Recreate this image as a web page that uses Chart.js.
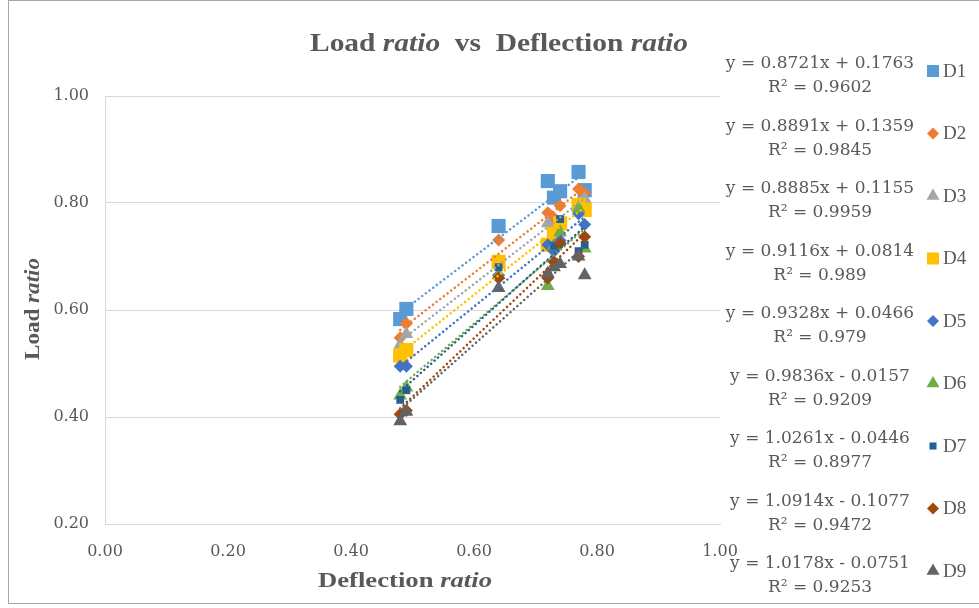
<!DOCTYPE html>
<html>
<head>
<meta charset="utf-8">
<script src="https://cdn.jsdelivr.net/npm/chart.js@4"></script>
<style>
  html, body { margin: 0; padding: 0; background: #fff; }
  #wrap { width: 979px; height: 608px; }
</style>
</head>
<body>
<div id="wrap"><canvas id="loadChart" width="979" height="608"></canvas></div>
<script>
// Series names and data
const seriesNames = ['D1', 'D2', 'D3', 'D4', 'D5', 'D6', 'D7', 'D8', 'D9'];
const deflection = [0.48, 0.49, 0.64, 0.72, 0.73, 0.74, 0.77, 0.78];

const loadD1 = [0.583, 0.602, 0.757, 0.841, 0.81, 0.822, 0.858, 0.824];
const loadD2 = [0.548, 0.575, 0.731, 0.782, 0.772, 0.795, 0.826, 0.818];
const loadD3 = [0.535, 0.555, 0.685, 0.762, 0.75, 0.76, 0.80, 0.808];
const loadD4 = [0.515, 0.525, 0.69, 0.722, 0.742, 0.762, 0.796, 0.787];
const loadD5 = [0.495, 0.495, 0.665, 0.722, 0.71, 0.73, 0.78, 0.76];
const loadD6 = [0.44, 0.455, 0.665, 0.645, 0.72, 0.745, 0.79, 0.715];
const loadD7 = [0.432, 0.45, 0.68, 0.665, 0.72, 0.77, 0.71, 0.722];
const loadD8 = [0.405, 0.412, 0.66, 0.66, 0.69, 0.725, 0.70, 0.737];
const loadD9 = [0.392, 0.41, 0.641, 0.668, 0.68, 0.686, 0.70, 0.665];
const loads = [loadD1, loadD2, loadD3, loadD4, loadD5, loadD6, loadD7, loadD8, loadD9];

// Trendline equations as printed on the chart
const slopes = [0.8721, 0.8891, 0.8885, 0.9116, 0.9328, 0.9836, 1.0261, 1.0914, 1.0178];
const intercepts = [0.1763, 0.1359, 0.1155, 0.0814, 0.0466, -0.0157, -0.0446, -0.1077, -0.0751];
const rSquared = ['0.9602', '0.9845', '0.9959', '0.989', '0.979', '0.9209', '0.8977', '0.9472', '0.9253'];

const yTicks = [0.20, 0.40, 0.60, 0.80, 1.00];

const colors = ['#5b9bd5', '#ed7d31', '#a5a5a5', '#ffc000', '#4472c4', '#70ad47', '#255e91', '#9e480e', '#636363'];
const shapes = ['rect', 'rectRot', 'triangle', 'rect', 'rectRot', 'triangle', 'rect', 'rectRot', 'triangle'];
const sizes = [10, 6.5, 8, 10, 6.5, 8, 5.5, 6.5, 8];
const legendSizes = [8.5, 6, 7.5, 8.5, 6, 7.5, 5, 6, 7.5];

const textColor = '#595959';
const serif = '"DejaVu Serif", "Liberation Serif", serif';

// Build datasets: points + dotted trendline for each series
const datasets = [];
seriesNames.forEach((name, i) => {
    const pts = deflection.map((x, k) => ({ x: x, y: loads[i][k] }));
    datasets.push({
        type: 'scatter',
        label: name,
        data: pts,
        pointStyle: shapes[i],
        pointRadius: sizes[i],
        pointHoverRadius: sizes[i],
        backgroundColor: colors[i],
        borderColor: colors[i],
        borderWidth: 0,
        order: 20 - i
    });
    const xMin = Math.min(...deflection);
    const xMax = Math.max(...deflection);
    datasets.push({
        type: 'line',
        label: name + ' trend',
        data: [
            { x: xMin, y: slopes[i] * xMin + intercepts[i] },
            { x: xMax, y: slopes[i] * xMax + intercepts[i] }
        ],
        borderColor: colors[i],
        borderWidth: 2.5,
        borderDash: [0.1, 4.5],
        borderCapStyle: 'round',
        pointRadius: 0,
        fill: false,
        order: 10 - i
    });
});

function equationText(i) {
    const b = intercepts[i];
    return 'y = ' + slopes[i].toFixed(4) + 'x ' + (b < 0 ? '- ' : '+ ') + Math.abs(b).toFixed(4);
}

// Draw runs of text with mixed bold/italic, centered, fitted to a width
function drawRuns(ctx, runs, cx, cy, size, targetWidth, rotate) {
    ctx.save();
    let total = 0;
    const widths = runs.map(r => {
        ctx.font = (r.italic ? 'italic ' : '') + 'bold ' + size + 'px "Liberation Serif", serif';
        const w = ctx.measureText(r.text).width;
        total += w;
        return w;
    });
    const sx = targetWidth ? targetWidth / total : 1;
    ctx.translate(cx, cy);
    if (rotate) ctx.rotate(-Math.PI / 2);
    ctx.scale(sx, 1);
    ctx.fillStyle = textColor;
    ctx.textBaseline = 'middle';
    ctx.textAlign = 'left';
    let x = -total / 2;
    runs.forEach((r, k) => {
        ctx.font = (r.italic ? 'italic ' : '') + 'bold ' + size + 'px "Liberation Serif", serif';
        ctx.fillText(r.text, x, 0);
        x += widths[k];
    });
    ctx.restore();
}

const decorPlugin = {
    id: 'decor',
    beforeDraw(chart) {
        const ctx = chart.ctx;
        ctx.save();
        ctx.fillStyle = '#ffffff';
        ctx.fillRect(0, 0, chart.width, chart.height);
        ctx.strokeStyle = '#a6a6a6';
        ctx.lineWidth = 1;
        ctx.strokeRect(8.5, 0.5, 1000, 603);
        ctx.restore();
    },
    afterDraw(chart) {
        const ctx = chart.ctx;
        // Title
        drawRuns(ctx, [
            { text: 'Load ' }, { text: 'ratio', italic: true },
            { text: '  vs  Deflection ' }, { text: 'ratio', italic: true }
        ], 499, 45, 25, 378, false);
        // Axis titles
        drawRuns(ctx, [{ text: 'Deflection ' }, { text: 'ratio', italic: true }], 405, 582, 21, 174, false);
        drawRuns(ctx, [{ text: 'Load ' }, { text: 'ratio', italic: true }], 34, 309, 21, 102, true);

        // Legend with trendline equations
        ctx.save();
        seriesNames.forEach((name, i) => {
            const my = 71 + i * 62.5;
            ctx.font = '17px ' + serif;
            ctx.fillStyle = textColor;
            ctx.textAlign = 'center';
            ctx.textBaseline = 'middle';
            ctx.fillText(equationText(i), 820, my - 7);
            ctx.fillText('R\u00b2 = ' + rSquared[i], 820, my + 17);
            ctx.fillStyle = colors[i];
            Chart.helpers.drawPoint(ctx, {
                pointStyle: shapes[i],
                radius: legendSizes[i],
                rotation: 0,
                borderWidth: 0
            }, 933, my);
            ctx.fillStyle = textColor;
            ctx.textAlign = 'left';
            ctx.font = '19px "Liberation Serif", serif';
            ctx.fillText(name, 943, my + 1);
        });
        ctx.restore();
    }
};

const ctx = document.getElementById('loadChart');
new Chart(ctx, {
    data: { datasets: datasets },
    options: {
        responsive: false,
        animation: false,
        layout: { padding: { top: 96, right: 259, left: 0, bottom: 0 } },
        plugins: {
            legend: { display: false },
            title: { display: false },
            tooltip: { enabled: false }
        },
        scales: {
            x: {
                type: 'linear',
                min: 0,
                max: 1,
                afterFit: s => { s.height = 84; },
                ticks: {
                    stepSize: 0.2,
                    padding: 10,
                    color: textColor,
                    font: { family: serif, size: 16 },
                    callback: v => v.toFixed(2)
                },
                grid: { display: false },
                border: { display: true, color: '#d9d9d9' }
            },
            y: {
                type: 'linear',
                min: yTicks[0],
                max: yTicks[yTicks.length - 1],
                afterFit: s => { s.width = 105; },
                afterBuildTicks: s => { s.ticks = yTicks.map(v => ({ value: v })); },
                ticks: {
                    padding: 16,
                    color: textColor,
                    font: { family: serif, size: 16 },
                    callback: v => v.toFixed(2)
                },
                grid: { color: '#d9d9d9', drawTicks: false },
                border: { display: true, color: '#d9d9d9' }
            }
        }
    },
    plugins: [decorPlugin]
});
</script>
</body>
</html>
